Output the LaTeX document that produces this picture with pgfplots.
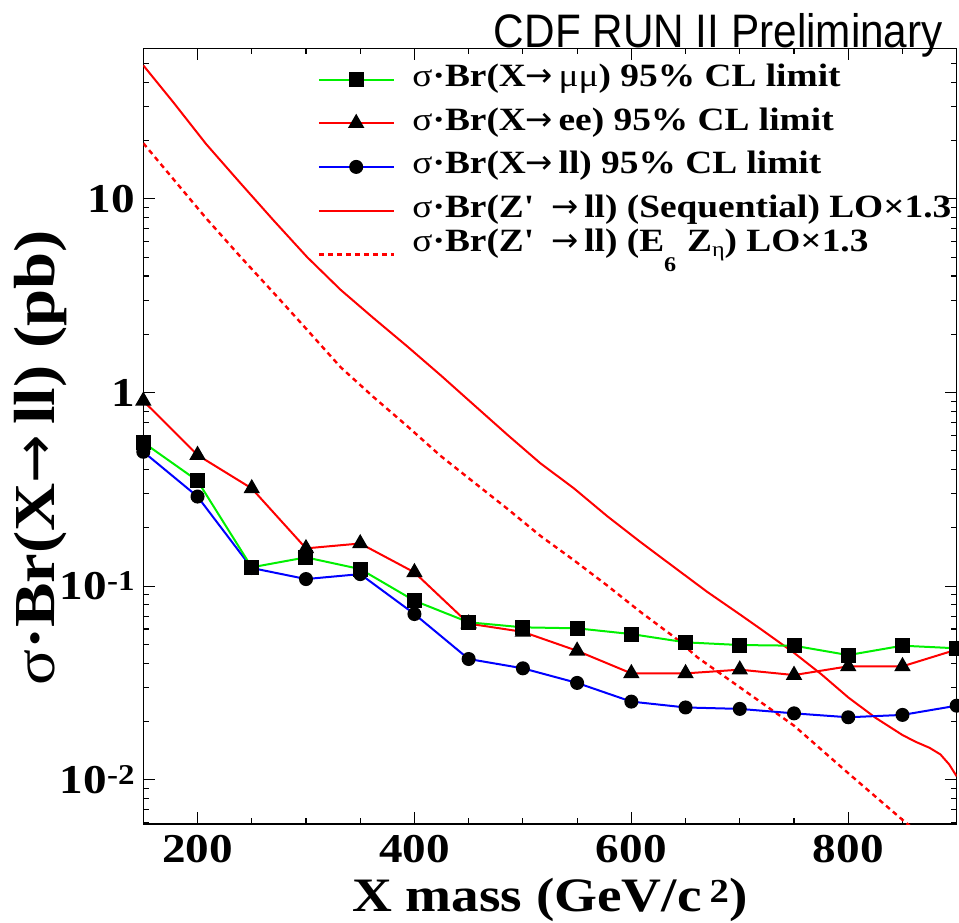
\documentclass[border=0pt]{standalone}
\usepackage{fontspec}
\setmainfont{Liberation Serif}[FakeStretch=1.15]
\newfontfamily\headfont{Liberation Sans}[FakeStretch=0.9]
\newfontfamily\arrowfont{DejaVu Sans}
\usepackage{pgfplots}
\pgfplotsset{compat=1.18}

\definecolor{rgreen}{RGB}{0,240,0}
\definecolor{rred}{RGB}{255,0,0}
\definecolor{rblue}{RGB}{0,0,255}

\newcommand\tickfont{\fontsize{41bp}{45bp}\selectfont\bfseries}
\newcommand\legfont{\fontsize{32.5bp}{35bp}\selectfont\bfseries}
\newcommand\sg{\textmd{σ}}
\newcommand\ar{{\arrowfont\mdseries →}}

% Expected limits (pb) vs. mass (GeV/c^2)
\pgfplotstableread{
m    mumu    ee      ll
150  0.552   0.905   0.494
200  0.350   0.475   0.290
250  0.125   0.3195  0.124
300  0.1407  0.1566  0.1087
350  0.1224  0.166   0.1153
400  0.0840  0.1177  0.0717
450  0.0650  0.0640  0.0420
500  0.0612  0.0580  0.0376
550  0.0605  0.0463  0.0316
600  0.0565  0.0354  0.0253
650  0.0512  0.0354  0.0236
700  0.0496  0.0370  0.0232
750  0.0492  0.0347  0.0220
800  0.0440  0.0385  0.0210
850  0.0492  0.0385  0.0216
900  0.0477  0.0470  0.0241
}\limits

% Z' cross sections times 1.3
\pgfplotstableread{
m    seq
150  48.98
178  31.4
208  19.19
239  12.16
270  7.76
301  5.01
332  3.39
362  2.43
393  1.738
424  1.230
455  0.861
486  0.603
516  0.4315
547  0.320
578  0.2291
609  0.1679
640  0.1245
670  0.0933
701  0.0708
720  0.0596
750  0.0452
775  0.0351
800  0.0266
825  0.0209
850  0.0170
862  0.0157
875  0.0146
885  0.0135
893  0.0120
900  0.0104
}\zseq

\pgfplotstableread{
m    eta
150  19.4
178  12.6
208  7.94
239  5.07
270  3.28
292  2.40
332  1.35
362  0.950
393  0.673
424  0.471
455  0.343
486  0.250
516  0.182
547  0.136
578  0.1004
609  0.0731
640  0.0543
661  0.0428
700  0.0300
750  0.0190
800  0.0108
849  0.00627
870  0.0050
}\zeta

\begin{document}
\begin{tikzpicture}
\begin{axis}[
  at={(0,0)}, anchor=south west,
  scale only axis, width=813.4bp, height=775.7bp,
  ymode=log, xmin=150, xmax=900, ymin=0.0059, ymax=60,
  xtick={200,400,600,800}, xticklabels={200,400,600,800},
  minor xtick={250,300,350,450,500,550,650,700,750,850},
  ytick={0.01,0.1,1,10},
  yticklabels={10\textsuperscript{-2},10\textsuperscript{-1},1,10},
  minor ytick={0.006,0.007,0.008,0.009,0.02,0.03,0.04,0.05,0.06,0.07,0.08,0.09,
               0.2,0.3,0.4,0.5,0.6,0.7,0.8,0.9,2,3,4,5,6,7,8,9,20,30,40,50},
  tick align=inside, major tick length=12bp, minor tick length=6bp,
  every tick/.style={black, line width=1.1bp},
  axis line style={line width=1.3bp, black},
  tick label style={font=\tickfont},
  xticklabel style={anchor=base, inner sep=0pt, yshift=-38bp},
  yticklabel style={anchor=base east, inner sep=0pt, xshift=-8bp, yshift=-13.9bp},
  xlabel={X mass (GeV/c\,\textsuperscript{2})},
  xlabel style={at={(axis description cs:0.5,-0.1134)}, anchor=base, inner sep=0pt,
                font=\fontsize{48bp}{52bp}\selectfont\bfseries},
  clip mode=individual,
  legend style={at={(axis description cs:0.2143,0.9778)}, anchor=north west,
                draw=none, fill=none, inner sep=0pt, outer sep=0pt,
                row sep=15.7bp, column sep=17.6bp, font=\legfont,
                nodes={inner sep=0pt, text height=21bp, text depth=7bp}},
  legend cell align=left,
  legend image code/.code={
    \draw[mark repeat=2, mark phase=2] plot coordinates {(0bp,0bp) (37.4bp,0bp) (74.8bp,0bp)};
  },
]
% theory curves
\addplot[rred, line width=2bp, forget plot] table[x=m, y=seq] {\zseq};
\addplot[rred, line width=2.4bp, dash pattern=on 5bp off 4bp, forget plot] table[x=m, y=eta] {\zeta};
% limits
\addplot[rblue, line width=2bp, mark=*, mark size=6bp, mark options={fill=black, draw=black, solid}, forget plot] table[x=m, y=ll] {\limits};
\addplot[rred, line width=2bp, mark=triangle*, mark size=7.5bp, mark options={fill=black, draw=black, solid}, forget plot] table[x=m, y=ee] {\limits};
\addplot[rgreen, line width=2bp, mark=square*, mark size=6.5bp, mark options={fill=black, draw=black, solid}, forget plot] table[x=m, y=mumu] {\limits};
% legend
\addlegendimage{rgreen, line width=2bp, mark=square*, mark size=6.5bp, mark options={fill=black, draw=black}}
\addlegendentry{\sg·Br(X\ar\,\textmd{μμ}) 95\% CL limit}
\addlegendimage{rred, line width=2bp, mark=triangle*, mark size=7.5bp, mark options={fill=black, draw=black}}
\addlegendentry{\sg·Br(X\ar\,ee) 95\% CL limit}
\addlegendimage{rblue, line width=2bp, mark=*, mark size=6bp, mark options={fill=black, draw=black}}
\addlegendentry{\sg·Br(X\ar\,ll) 95\% CL limit}
\addlegendimage{rred, line width=2bp}
\addlegendentry{\sg·Br(Z\textquotesingle\ \ \ar\,ll) (Sequential) LO×1.3}
\addlegendimage{rred, line width=2.4bp, dash pattern=on 5bp off 4bp}
\addlegendentry{\raisebox{10bp}{\sg·Br(Z\textquotesingle\ \ \ar\,ll) (E\raisebox{-20bp}{\fontsize{21bp}{21bp}\selectfont 6}\,\,Z\raisebox{-5bp}{\fontsize{21bp}{21bp}\selectfont\textmd{η}}) LO×1.3}}
\end{axis}
% axis titles and header
\node[rotate=90, anchor=base, inner sep=0pt, font=\fontsize{58bp}{62bp}\selectfont\bfseries]
  at (-88.3bp,366bp) {\sg·Br(X\ar\,ll) (pb)};
\node[anchor=base east, inner sep=0pt, font=\headfont\fontsize{47bp}{50bp}\selectfont]
  at (799.7bp,776.8bp) {CDF RUN II Preliminary};
\pgfresetboundingbox
\useasboundingbox (-143.3bp,-99bp) rectangle (815.7bp,824bp);
\end{tikzpicture}
\end{document}
